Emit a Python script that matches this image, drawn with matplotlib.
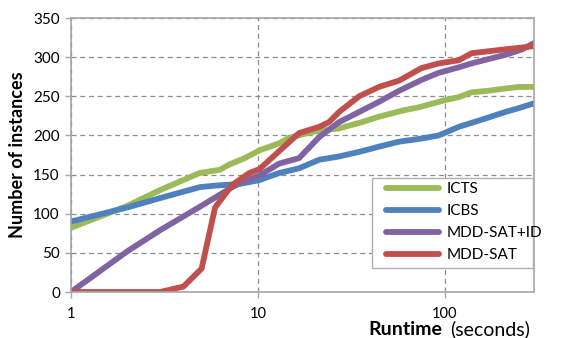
import matplotlib
matplotlib.use("Agg")
import matplotlib.pyplot as plt
from matplotlib.patches import Rectangle
from matplotlib.ticker import FixedLocator, FixedFormatter, NullLocator

# ---------------- data ----------------
icts_t = [1, 2, 2.98, 4.88, 6.23, 7.05, 8.5, 10.2, 13, 14.7, 20, 27.2, 36, 44.5, 60, 72.7, 100, 118.8, 139, 170, 211, 250, 300]
icts_v = [82, 110, 130, 152, 156, 163, 171, 181, 190, 197, 205, 209, 217, 224, 232, 236, 245, 249, 255, 257, 260, 262, 262]

icbs_t = [1, 2, 3, 4.9, 6, 8, 10.2, 13, 16.6, 21.3, 27, 34.8, 45, 56.9, 75, 92.8, 118.8, 157, 211, 250, 300]
icbs_v = [90, 108, 120, 134, 136, 138, 143, 152, 158, 169, 173, 179, 186, 192, 196, 200, 211, 220, 230, 235, 241]

mddid_t = [1, 2, 3, 4.9, 7.3, 8, 10.2, 13, 16.6, 21.3, 27.2, 34.8, 44.5, 56.9, 75.2, 92.8, 118.8, 139, 211, 260, 300]
mddid_v = [0, 52, 79, 109, 134, 139, 149, 164, 171, 198, 217, 230, 243, 257, 271, 280, 287, 292, 303, 310, 318]

mdd_t = [1, 3, 4, 5, 5.9, 7.3, 9, 10.2, 13, 16.6, 21.3, 24, 27.2, 34.8, 44.5, 56.9, 75, 92.8, 118.8, 139, 211, 300]
mdd_v = [0, 0, 7, 30, 108, 137, 152, 157, 180, 203, 211, 217, 230, 250, 262, 270, 286, 292, 296, 305, 310, 314]

series_names = ["ICTS", "ICBS", "MDD-SAT+ID", "MDD-SAT"]
series_colors = ["#9BBB59", "#4F81BD", "#8064A2", "#C0504D"]

x_ticks = [1, 10, 100]
x_tick_labels = ["1", "10", "100"]
y_ticks = [0, 50, 100, 150, 200, 250, 300, 350]

FONT = ["Lato", "DejaVu Sans"]
plt.rcParams["font.family"] = FONT

W, H = 561, 338
fig = plt.figure(figsize=(W / 100, H / 100), dpi=100)
ax = fig.add_axes([71 / W, 1 - 292 / H, (534 - 71) / W, (292 - 18) / H])

data = [(icts_t, icts_v), (icbs_t, icbs_v), (mddid_t, mddid_v), (mdd_t, mdd_v)]
for (t, v), name, c in zip(data, series_names, series_colors):
    ax.plot(t, v, color=c, lw=4.2, label=name, solid_capstyle="round", solid_joinstyle="round", zorder=2)

ax.set_xscale("log")
ax.set_xlim(1, 300)
ax.set_ylim(0, 350)
ax.xaxis.set_major_locator(FixedLocator(x_ticks))
ax.xaxis.set_major_formatter(FixedFormatter(x_tick_labels))
ax.xaxis.set_minor_locator(NullLocator())
ax.set_yticks(y_ticks)

ax.grid(True, which="major", color="#8c8c8c", linestyle=(0, (4, 3)), linewidth=0.9)
ax.set_axisbelow(True)
for s in ax.spines.values():
    s.set_color("#a6a6a6")
    s.set_linewidth(1.2)
ax.tick_params(axis="both", colors="#a6a6a6", length=4, width=1, labelsize=11, labelcolor="black", pad=4)
ax.tick_params(axis="x", labelsize=10.5, pad=7)

ax.set_ylabel("Number of instances", fontsize=13, fontweight="bold", labelpad=5)

# legend box (text may overflow the box, as in the reference)
box = Rectangle((372 / W, 1 - 268 / H), (533 - 372) / W, (268 - 178) / H, transform=fig.transFigure,
                facecolor="white", edgecolor="#b0b0b0", linewidth=1.0, zorder=4, clip_on=False)
ax.add_patch(box)
leg = ax.legend(loc="upper left", bbox_to_anchor=(386 / W, 1 - 182 / H), bbox_transform=fig.transFigure,
                fontsize=11, frameon=False, handlelength=3.5, handletextpad=0.45, labelspacing=0.53,
                borderpad=0.0, borderaxespad=0.0)
leg.set_zorder(5)

# x label: bold "Runtime" + normal "(seconds)"
fig.text(368 / W, 1 - 335 / H, "Runtime", fontsize=14, fontweight="bold", ha="left", va="baseline")
fig.text(530 / W, 1 - 335 / H, "(seconds)", fontsize=14, ha="right", va="baseline")

fig.savefig("out.png", dpi=100)
